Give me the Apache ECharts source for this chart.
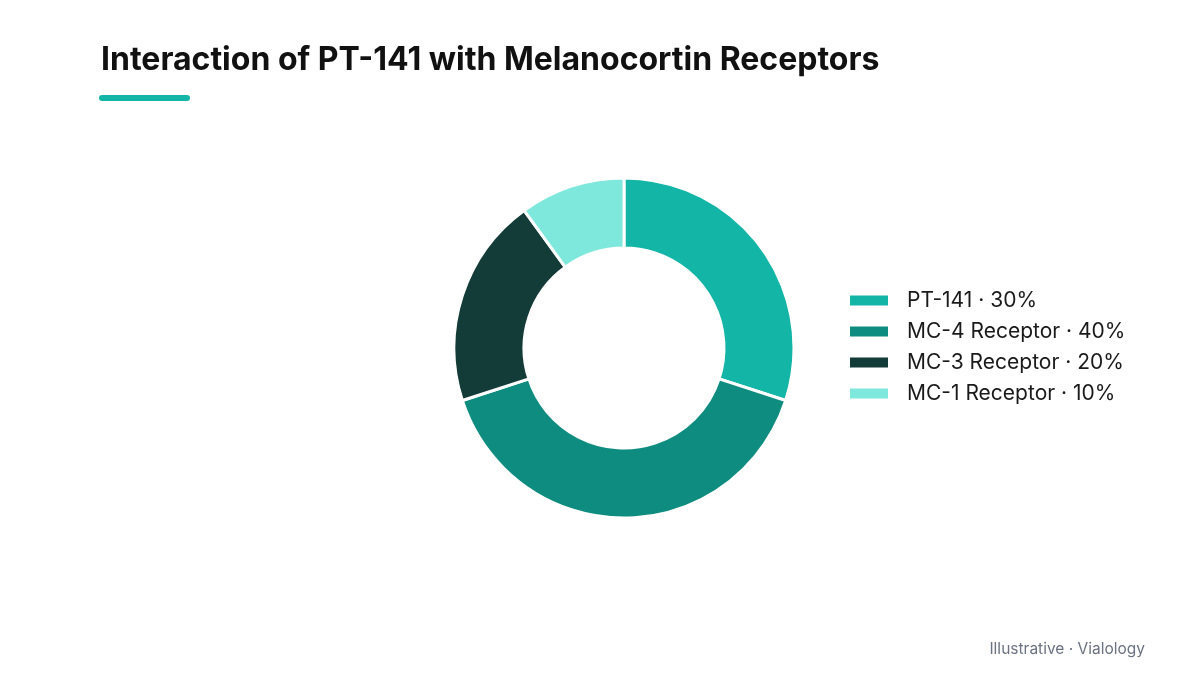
<!DOCTYPE html>
<html>
<head>
<meta charset="utf-8">
<script src="https://cdn.jsdelivr.net/npm/echarts@6/dist/echarts.min.js"></script>
<style>
  html, body { margin: 0; padding: 0; background: #fff; }
  #chart { width: 1200px; height: 675px; }
</style>
</head>
<body>
<div id="chart"></div>
<script>
  var names = ['PT-141', 'MC-4 Receptor', 'MC-3 Receptor', 'MC-1 Receptor'];
  var values = [30, 40, 20, 10];
  var colors = ['#13B5A6', '#0D8C7F', '#133B37', '#7FE8DC'];

  var chart = echarts.init(document.getElementById('chart'));
  chart.setOption({
    backgroundColor: '#ffffff',
    color: colors,
    title: {
      text: 'Interaction of PT-141 with Melanocortin Receptors',
      left: 101,
      top: 44,
      padding: 0,
      textStyle: {
        fontFamily: 'Inter',
        fontSize: 32,
        fontWeight: 700,
        color: '#111111'
      }
    },
    graphic: [
      {
        type: 'rect',
        shape: { x: 99, y: 95, width: 91, height: 6, r: 3 },
        style: { fill: '#13B5A6' }
      },
      {
        type: 'text',
        right: 55,
        top: 641,
        style: {
          text: 'Illustrative · Vialology',
          fontFamily: 'Inter',
          fontSize: 15.5,
          fill: '#6B7280'
        }
      }
    ],
    legend: {
      orient: 'vertical',
      left: 843,
      top: 285,
      itemWidth: 40,
      itemHeight: 12,
      itemGap: 10,
      icon: 'rect',
      textStyle: {
        fontFamily: 'Inter',
        fontSize: 21,
        color: '#1a1a1a',
        padding: [0, 0, 0, 13]
      },
      formatter: function (name) {
        var i = names.indexOf(name);
        return name + ' · ' + values[i] + '%';
      }
    },
    series: [
      {
        type: 'pie',
        center: [624, 348],
        radius: [100, 170],
        startAngle: 90,
        clockwise: true,
        label: { show: false },
        labelLine: { show: false },
        itemStyle: { borderColor: '#ffffff', borderWidth: 3 },
        emphasis: { scale: false },
        data: names.map(function (n, i) { return { name: n, value: values[i] }; })
      }
    ]
  });
</script>
</body>
</html>
